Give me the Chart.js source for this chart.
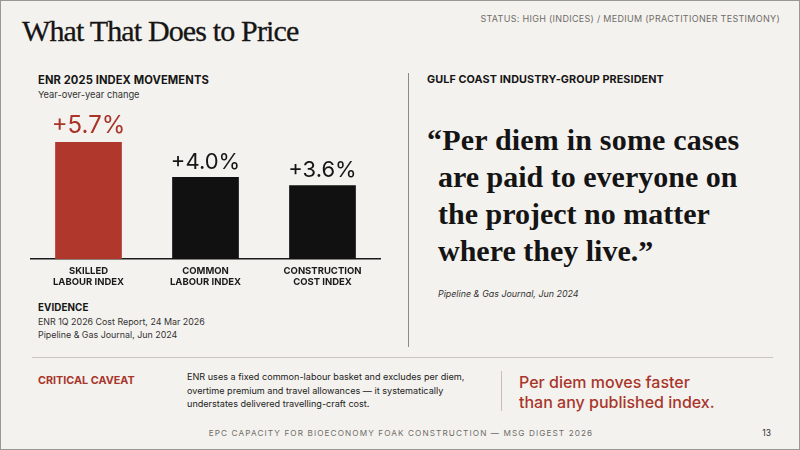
<!DOCTYPE html>
<html>
<head>
<meta charset="utf-8">
<script src="https://cdn.jsdelivr.net/npm/chart.js@4"></script>
<style>
  html, body { margin: 0; padding: 0; }
  body { width: 800px; height: 450px; overflow: hidden; background: #f4f2ee; font-family: Inter, "Liberation Sans", sans-serif; color: #161616; }
  .slide { position: relative; width: 798px; height: 448px; border: 1px solid #9a9893; background: #f4f2ee; }
  .abs { position: absolute; white-space: nowrap; }
  .title { left: 21px; top: 13px; font-family: "Liberation Serif", serif; font-size: 30px; color: #151515; letter-spacing: -0.85px; -webkit-text-stroke: 0.3px #151515; }
  .status { right: 19px; top: 12px; font-size: 9px; color: #6f6d69; letter-spacing: 0.3px; }
  .h { font-size: 11.2px; font-weight: 700; letter-spacing: 0.1px; }
  .sub { font-size: 9.3px; color: #333; }
  .small { font-size: 8.9px; color: #333; line-height: 12.5px; }
  .vline { position: absolute; width: 1px; background: #8c8a86; }
  .quote { left: 426px; top: 120px; font-family: "Liberation Serif", serif; font-weight: 700; font-size: 30px; line-height: 37px; color: #141414; white-space: nowrap; }
  .quote span { display: block; padding-left: 11px; }
  .quote span.first { padding-left: 0; letter-spacing: 0.2px; }
  .cite { left: 437px; top: 287px; font-size: 8.9px; font-style: italic; color: #333; }
  .hr { position: absolute; left: 31px; width: 741px; top: 356px; height: 1px; background: #c9c6c0; }
  .caveat { left: 37px; top: 373px; font-size: 10.8px; font-weight: 700; color: #a8362b; }
  .body { left: 186px; top: 369px; font-size: 9.1px; line-height: 13.5px; color: #222; }
  .punch { left: 518px; top: 371px; font-size: 16px; line-height: 20px; font-weight: 500; color: #a8362b; }
  .footer { left: 0; width: 800px; text-align: center; top: 427px; font-size: 8.2px; letter-spacing: 1.1px; color: #6f6d69; }
  .page { right: 28px; top: 427px; font-size: 8.5px; color: #333; }
  #chartBox { position: absolute; left: 29px; top: 108px; width: 351px; height: 185px; }
</style>
</head>
<body>
<div class="slide">
  <div class="abs title">What That Does to Price</div>
  <div class="abs status">STATUS: HIGH (INDICES) / MEDIUM (PRACTITIONER TESTIMONY)</div>

  <div class="abs h" style="left:37px; top:72px;">ENR 2025 INDEX MOVEMENTS</div>
  <div class="abs sub" style="left:37px; top:88px;">Year-over-year change</div>

  <div id="chartBox"><canvas id="barChart"></canvas></div>

  <div class="abs h" style="left:37px; top:301px; font-size:9.8px;">EVIDENCE</div>
  <div class="abs small" style="left:37px; top:315px;">ENR 1Q 2026 Cost Report, 24 Mar 2026<br>Pipeline &amp; Gas Journal, Jun 2024</div>

  <div class="vline" style="left:407px; top:72px; height:274px;"></div>

  <div class="abs h" style="left:426px; top:72px; font-size:10.8px;">GULF COAST INDUSTRY-GROUP PRESIDENT</div>
  <div class="abs quote">
    <span class="first">&ldquo;Per diem in some cases</span>
    <span>are paid to everyone on</span>
    <span>the project no matter</span>
    <span>where they live.&rdquo;</span>
  </div>
  <div class="abs cite">Pipeline &amp; Gas Journal, Jun 2024</div>

  <div class="hr"></div>
  <div class="abs caveat">CRITICAL CAVEAT</div>
  <div class="abs body">ENR uses a fixed common-labour basket and excludes per diem,<br>overtime premium and travel allowances — it systematically<br>understates delivered travelling-craft cost.</div>
  <div class="vline" style="left:500px; top:370px; height:40px; background:#d3b9b4;"></div>
  <div class="abs punch">Per diem moves faster<br>than any published index.</div>

  <div class="abs footer">EPC CAPACITY FOR BIOECONOMY FOAK CONSTRUCTION — MSG DIGEST 2026</div>
  <div class="abs page">13</div>
</div>

<script>
var categories = [["SKILLED", "LABOUR INDEX"], ["COMMON", "LABOUR INDEX"], ["CONSTRUCTION", "COST INDEX"]];
var changes = [5.7, 4.0, 3.6];
var valueLabels = ["+5.7%", "+4.0%", "+3.6%"];
var barColors = ["#b0372c", "#111111", "#111111"];
var labelColors = ["#a8342a", "#151515", "#151515"];

// write the value text above each bar, using the bar positions from the scales
var valueLabelPlugin = {
  id: "valueLabels",
  afterDatasetsDraw: function (chart) {
    var ctx = chart.ctx;
    var meta = chart.getDatasetMeta(0);
    ctx.save();
    ctx.textAlign = "center";
    ctx.textBaseline = "bottom";
    meta.data.forEach(function (bar, i) {
      ctx.font = (i === 0 ? "24px" : "22px") + " Inter, 'Liberation Sans', sans-serif";
      ctx.fillStyle = labelColors[i];
      ctx.fillText(valueLabels[i], bar.x, bar.y - 4);
    });
    ctx.restore();
  }
};

new Chart("barChart", {
  type: "bar",
  data: {
    labels: categories,
    datasets: [{
      data: changes,
      backgroundColor: barColors,
      borderWidth: 0,
      barPercentage: 0.57,
      categoryPercentage: 1.0
    }]
  },
  options: {
    responsive: true,
    maintainAspectRatio: false,
    animation: false,
    layout: { padding: { top: 0, left: 0, right: 0, bottom: 0 } },
    plugins: {
      legend: { display: false },
      title: { display: false },
      tooltip: { enabled: false }
    },
    scales: {
      x: {
        grid: { display: false, drawTicks: false },
        border: { display: true, color: "#1a1a1a", width: 1.5 },
        ticks: {
          color: "#1a1a1a",
          padding: 6,
          font: { family: "Inter, 'Liberation Sans', sans-serif", size: 9.5, weight: "bold", lineHeight: 1.2 }
        }
      },
      y: {
        display: false,
        min: 0,
        max: 7.3
      }
    }
  },
  plugins: [valueLabelPlugin]
});
</script>
</body>
</html>
